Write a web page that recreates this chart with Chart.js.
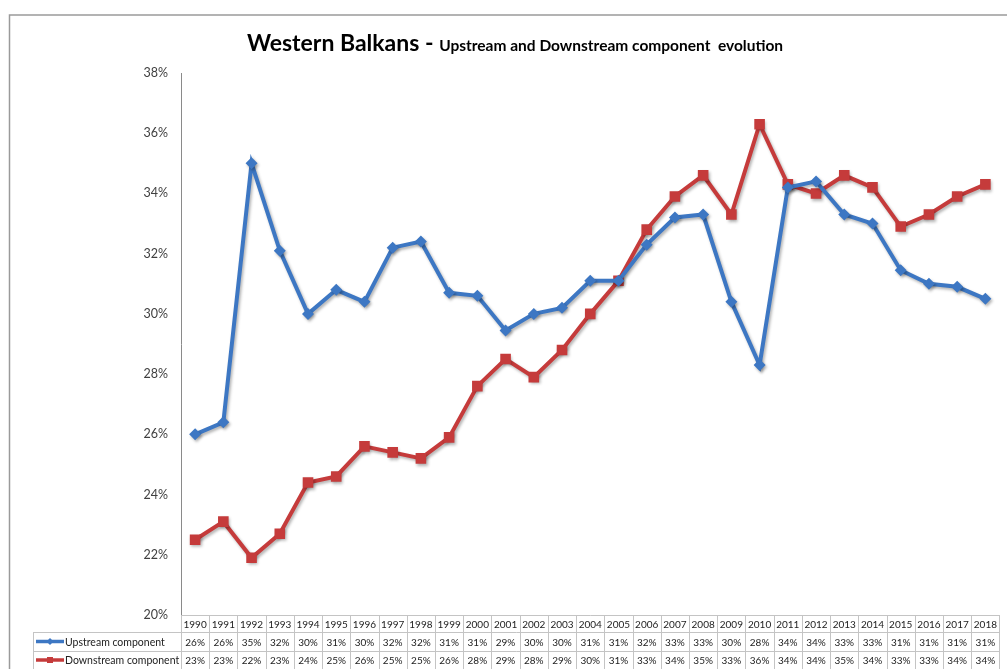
<!DOCTYPE html>
<html>
<head>
<meta charset="utf-8">
<script src="https://cdn.jsdelivr.net/npm/chart.js@4"></script>
<style>
  html, body { margin: 0; padding: 0; background: #fff; }
  #wrap { width: 1007px; height: 669px; position: relative; }
</style>
</head>
<body>
<div id="wrap"><canvas id="chartCanvas"></canvas></div>
<script>
var years = ['1990','1991','1992','1993','1994','1995','1996','1997','1998','1999','2000',
  '2001','2002','2003','2004','2005','2006','2007','2008','2009','2010',
  '2011','2012','2013','2014','2015','2016','2017','2018'];

// values (percent)
var upstream = [26.0, 26.4, 35.0, 32.1, 30.0, 30.8, 30.4, 32.2, 32.4, 30.7, 30.6,
  29.45, 30.0, 30.2, 31.1, 31.1, 32.3, 33.2, 33.3, 30.4, 28.3,
  34.2, 34.4, 33.3, 33.0, 31.45, 31.0, 30.9, 30.5];
var downstream = [22.5, 23.1, 21.9, 22.7, 24.4, 24.6, 25.6, 25.4, 25.2, 25.9, 27.6,
  28.5, 27.9, 28.8, 30.0, 31.1, 32.8, 33.9, 34.6, 33.3, 36.3,
  34.3, 34.0, 34.6, 34.2, 32.9, 33.3, 33.9, 34.3];

var seriesNames = ['Upstream component', 'Downstream component'];
var blue = '#3d77c3';
var red = '#c53b3b';
var font = 'Lato, "Open Sans", sans-serif';

// outer frame, title and the data table under the plot
var extras = {
  id: 'extras',
  beforeDatasetsDraw: function(chart) {
    var c = chart.ctx;
    c.save();
    c.shadowColor = 'rgba(0,0,0,0.3)';
    c.shadowBlur = 3;
    c.shadowOffsetX = 1.5;
    c.shadowOffsetY = 2;
  },
  afterDatasetsDraw: function(chart) {
    chart.ctx.restore();
  },
  afterDraw: function(chart) {
    var c = chart.ctx;
    var area = chart.chartArea;
    var xs = chart.scales.x;
    c.save();

    // frame
    c.strokeStyle = '#9a9a9a';
    c.lineWidth = 1.5;
    c.beginPath();
    c.moveTo(9.5, 669);
    c.lineTo(9.5, 15);
    c.lineTo(1007, 15);
    c.stroke();

    // title
    var big = 'bold 23px ' + font;
    var small = 'bold 15.5px ' + font;
    var t1 = 'Western Balkans - ';
    var t2 = 'Upstream and Downstream component  evolution';
    c.font = big; var w1 = c.measureText(t1).width;
    c.font = small; var w2 = c.measureText(t2).width;
    var tx = 515 - (w1 + w2) / 2;
    c.fillStyle = '#000';
    c.textBaseline = 'alphabetic';
    c.textAlign = 'left';
    c.font = big; c.fillText(t1, tx, 51);
    c.font = small; c.fillText(t2, tx + w1, 51);

    // table
    var colW = xs.getPixelForValue(1) - xs.getPixelForValue(0);
    var left = area.left;
    var right = area.right;
    var y0 = area.bottom, y1 = 632, y2 = 651, y3 = 669;
    var labelLeft = 33;
    c.strokeStyle = '#c4c4c4';
    c.lineWidth = 1;
    c.beginPath();
    c.moveTo(left, y0 + 0.5); c.lineTo(right, y0 + 0.5);
    c.moveTo(labelLeft, y1 + 0.5); c.lineTo(right, y1 + 0.5);
    c.moveTo(labelLeft, y2 + 0.5); c.lineTo(right, y2 + 0.5);
    c.moveTo(labelLeft + 0.5, y1); c.lineTo(labelLeft + 0.5, y3);
    for (var i = 0; i <= years.length; i++) {
      var gx = Math.round(left + i * colW) + 0.5;
      c.moveTo(gx, y0); c.lineTo(gx, y3);
    }
    c.stroke();

    c.fillStyle = '#222';
    c.font = '10px ' + font;
    c.textAlign = 'center';
    c.textBaseline = 'middle';
    years.forEach(function(yr, i) {
      var cx = xs.getPixelForValue(i);
      c.fillText(yr, cx, (y0 + y1) / 2 + 1);
      c.fillText(Math.round(upstream[i]) + '%', cx, (y1 + y2) / 2 + 1);
      c.fillText(Math.round(downstream[i]) + '%', cx, (y2 + y3) / 2 + 1);
    });

    // legend keys in the table
    var rows = [[(y1 + y2) / 2, blue, 'diamond'], [(y2 + y3) / 2, red, 'square']];
    rows.forEach(function(r, k) {
      var ry = r[0];
      c.strokeStyle = r[1];
      c.lineWidth = 3.5;
      c.beginPath();
      c.moveTo(36, ry); c.lineTo(64, ry);
      c.stroke();
      c.fillStyle = r[1];
      if (r[2] === 'diamond') {
        c.beginPath();
        c.moveTo(50, ry - 3.5); c.lineTo(53.5, ry); c.lineTo(50, ry + 3.5); c.lineTo(46.5, ry);
        c.closePath(); c.fill();
      } else {
        c.fillRect(47, ry - 3, 6, 6);
      }
      c.fillStyle = '#222';
      c.textAlign = 'left';
      c.font = '10.5px ' + font;
      c.fillText(seriesNames[k], 65, ry + 1);
    });
    c.restore();
  }
};

var ctx = document.getElementById('chartCanvas').getContext('2d');
var chart = new Chart(ctx, {
  type: 'line',
  data: {
    labels: years,
    datasets: [{
      label: seriesNames[0],
      data: upstream,
      borderColor: blue,
      backgroundColor: blue,
      borderWidth: 4,
      pointStyle: 'rectRot',
      pointRadius: 6,
      pointBorderWidth: 0,
      tension: 0,
      fill: false
    }, {
      label: seriesNames[1],
      data: downstream,
      borderColor: red,
      backgroundColor: red,
      borderWidth: 4,
      pointStyle: 'rect',
      pointRadius: 7.5,
      pointBorderWidth: 0,
      tension: 0,
      fill: false
    }]
  },
  options: {
    responsive: true,
    maintainAspectRatio: false,
    animation: false,
    layout: { padding: { left: 0, right: 1, top: 73, bottom: 54 } },
    plugins: {
      legend: { display: false },
      title: { display: false },
      tooltip: { enabled: false }
    },
    scales: {
      x: {
        type: 'category',
        offset: true,
        display: false
      },
      y: {
        min: 20,
        max: 38,
        afterFit: function(s) { s.width = 181; },
        grid: { drawOnChartArea: false, drawTicks: false },
        border: { display: true, color: '#8a8a8a', width: 1 },
        ticks: {
          stepSize: 2,
          padding: 13,
          color: '#404040',
          font: { family: font, size: 12.5 },
          callback: function(v) { return v + '%'; }
        }
      }
    }
  },
  plugins: [extras]
});
</script>
</body>
</html>
